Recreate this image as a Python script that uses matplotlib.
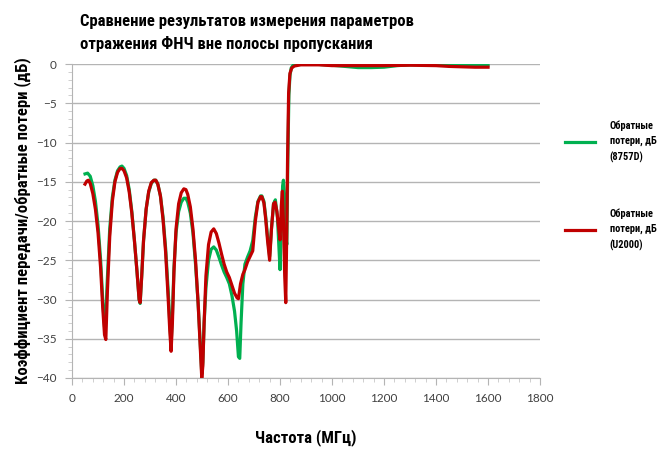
import matplotlib
matplotlib.use('Agg')
import matplotlib.pyplot as plt
from matplotlib.ticker import MultipleLocator

# data (frequency in MHz, loss in dB)
freq_8757d = [50, 60, 70, 80, 90, 100, 110, 118, 125, 128, 135, 145, 155, 165, 175,
              185, 192, 200, 210, 220, 230, 240, 250, 258, 262, 268, 275, 285, 295,
              305, 315, 322, 330, 340, 350, 360, 370, 376, 381, 386, 392, 400, 410,
              420, 430, 438, 445, 455, 465, 475, 485, 493, 499, 503, 508, 515, 525,
              535, 545, 555, 565, 575, 585, 595, 605, 615, 625, 633, 640, 645, 650,
              657, 665, 675, 685, 695, 705, 715, 725, 730, 738, 745, 752, 760, 767,
              775, 782, 790, 796, 800, 805, 810, 813, 817, 822, 826, 830, 834, 838,
              843, 850, 870, 900, 950, 1000, 1050, 1100, 1150, 1200, 1250, 1300,
              1400, 1500, 1600]
loss_8757d = [-14.0, -13.9, -14.3, -15.5, -17.5, -20.5, -25.0, -30.0, -33.5, -33.8,
              -28.0, -21.0, -17.0, -14.8, -13.6, -13.1, -13.0, -13.3, -14.2, -16.0,
              -18.8, -22.5, -26.5, -30.0, -30.5, -27.0, -22.5, -18.5, -16.3, -15.2,
              -14.8, -14.8, -15.3, -16.8, -19.5, -23.5, -29.0, -33.0, -35.8, -32.0,
              -26.0, -21.5, -18.8, -17.6, -17.1, -17.1, -17.6, -19.0, -21.5, -25.5,
              -30.5, -35.5, -39.5, -38.0, -33.0, -28.5, -25.0, -23.6, -23.3, -23.7,
              -24.6, -25.6, -26.5, -27.2, -28.0, -29.5, -31.5, -34.0, -37.3, -37.5,
              -33.0, -28.0, -25.5, -24.6, -23.8, -22.5, -19.5, -17.5, -16.8, -16.8,
              -17.5, -19.5, -22.0, -24.5, -21.0, -17.8, -17.3, -19.5, -23.5, -26.2,
              -20.0, -15.5, -14.8, -17.0, -22.0, -23.0, -12.0, -4.0, -1.5, -0.5,
              -0.15, 0.0, 0.0, -0.05, -0.15, -0.3, -0.45, -0.45, -0.4, -0.2, -0.1,
              -0.05, -0.05, -0.1]

freq_u2000 = [50, 57, 63, 70, 80, 90, 100, 110, 118, 125, 130, 136, 145, 155, 165,
              175, 185, 192, 200, 210, 220, 230, 240, 250, 258, 262, 268, 275, 285,
              295, 305, 315, 322, 330, 340, 350, 360, 370, 376, 381, 386, 392, 400,
              410, 420, 430, 438, 445, 455, 465, 475, 485, 493, 499, 503, 508, 515,
              525, 535, 545, 555, 565, 575, 585, 595, 605, 615, 625, 635, 640, 648,
              657, 665, 675, 685, 695, 705, 715, 725, 730, 738, 745, 752, 760, 767,
              775, 781, 788, 795, 800, 805, 809, 813, 818, 822, 826, 829, 833, 838,
              845, 855, 880, 900, 950, 1000, 1100, 1200, 1300, 1400, 1450, 1500,
              1550, 1600]
loss_u2000 = [-15.3, -14.9, -14.8, -15.2, -16.5, -18.5, -21.5, -26.0, -31.0, -34.5,
              -35.1, -29.0, -22.0, -17.5, -15.0, -13.8, -13.3, -13.3, -13.6, -14.5,
              -16.3, -19.0, -22.5, -26.5, -30.0, -30.4, -27.0, -22.5, -18.5, -16.2,
              -15.1, -14.8, -14.8, -15.3, -16.8, -19.8, -24.0, -30.0, -34.0, -36.6,
              -33.0, -26.5, -21.0, -17.8, -16.4, -15.9, -16.0, -16.6, -18.2, -21.0,
              -25.0, -30.5, -36.0, -40.0, -38.5, -33.0, -27.0, -23.0, -21.4, -21.0,
              -21.6, -22.8, -24.2, -25.5, -26.5, -27.2, -28.2, -29.2, -29.8, -29.9,
              -28.0, -26.8, -26.2, -25.2, -24.5, -23.8, -20.0, -17.6, -16.9, -16.9,
              -17.7, -19.8, -22.5, -25.0, -21.0, -17.8, -17.6, -18.8, -21.0, -22.4,
              -18.0, -16.2, -20.0, -27.0, -30.4, -21.0, -12.0, -3.7, -1.2, -0.5,
              -0.25, -0.1, -0.1, -0.1, -0.2, -0.2, -0.2, -0.15, -0.2, -0.3, -0.35,
              -0.4, -0.4]

x_ticks = [0, 200, 400, 600, 800, 1000, 1200, 1400, 1600, 1800]
y_ticks = [0, -5, -10, -15, -20, -25, -30, -35, -40]

narrow = ['Roboto Condensed', 'DejaVu Sans']

fig = plt.figure(figsize=(6.62, 4.53), dpi=100)
ax = fig.add_axes([0.1088, 0.1656, 0.707, 0.693])

l1, = ax.plot(freq_8757d, loss_8757d, color='#00b050', lw=2.3, solid_joinstyle='round')
l2, = ax.plot(freq_u2000, loss_u2000, color='#c00000', lw=2.3, solid_joinstyle='round')

ax.set_xlim(0, 1800)
ax.set_ylim(-40, 0)
ax.set_xticks(x_ticks)
ax.set_yticks(y_ticks)
ax.xaxis.set_minor_locator(MultipleLocator(40))
ax.yaxis.set_minor_locator(MultipleLocator(1))
ax.grid(axis='y', color='#b4b4b4', lw=1.0)
ax.set_axisbelow(True)

for s in ['top', 'right']:
    ax.spines[s].set_visible(False)
for s in ['left', 'bottom']:
    ax.spines[s].set_color('#b4b4b4')
ax.tick_params(which='major', length=5, color='#b4b4b4', labelsize=8.5,
               labelcolor='#404040', pad=6)
ax.tick_params(which='minor', length=3, color='#c8c8c8')
for lab in ax.get_xticklabels() + ax.get_yticklabels():
    lab.set_family(['Lato', 'DejaVu Sans'])

fig.text(0.121, 0.968, 'Сравнение результатов измерения параметров\nотражения ФНЧ вне полосы пропускания',
         family=narrow, weight='bold', fontsize=12, va='top', ha='left', linespacing=1.5)
ax.set_xlabel('Частота (МГц)', family=narrow, weight='bold', fontsize=12, labelpad=18)
ax.set_ylabel('Коэффициент передачи/обратные потери (дБ)', family=narrow, weight='bold',
              fontsize=12, labelpad=4)

leg = fig.legend([l1, l2], ['Обратные\nпотери, дБ\n(8757D)', 'Обратные\nпотери, дБ\n(U2000)'],
                 loc='upper left', bbox_to_anchor=(0.839, 0.755), frameon=False,
                 prop={'family': narrow, 'weight': 'bold', 'size': 7.5}, handlelength=2.9,
                 handletextpad=1.4, labelspacing=4.3)
for t in leg.get_texts():
    t.set_linespacing(1.65)

fig.savefig('out.png', dpi=100)
